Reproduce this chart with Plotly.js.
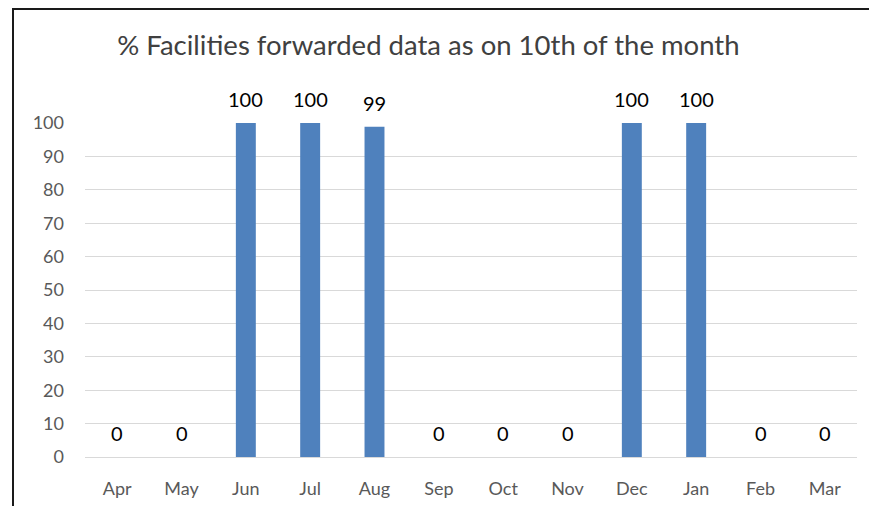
<!DOCTYPE html>
<html><head><meta charset="utf-8">
<script src="https://cdn.plot.ly/plotly-3.0.1.min.js"></script>
<style>
html,body{margin:0;padding:0;background:#fff;overflow:hidden;width:869px;height:506px;}
#frame{position:absolute;left:12px;top:8px;width:900px;height:600px;border-left:2px solid #1a1a1a;border-top:2px solid #1a1a1a;box-sizing:border-box;pointer-events:none;z-index:5;}
#chart{position:absolute;left:0;top:0;width:869px;height:506px;}
</style></head>
<body>
<div id="chart"></div>
<div id="frame"></div>
<script>
const months = ["Apr","May","Jun","Jul","Aug","Sep","Oct","Nov","Dec","Jan","Feb","Mar"];
const percentForwarded = [0,0,100,100,98.9,0,0,0,100,100,0,0];
const yTicks = [0,10,20,30,40,50,60,70,80,90,100];

const font = "Lato, sans-serif";
const annotations = months.map((m,i)=>({
  x:m, y:percentForwarded[i], xref:'x', yref:'y',
  text: String(Math.round(percentForwarded[i])),
  showarrow:false, yshift:24,
  font:{family:font,size:20,color:'#000'}
}));

Plotly.newPlot('chart',[{
  type:'bar', x:months, y:percentForwarded,
  marker:{color:'#4f81bd'}, hoverinfo:'none'
}],{
  width:869,height:506,
  margin:{l:85,r:12,t:123,b:49,pad:0},
  paper_bgcolor:'#fff',plot_bgcolor:'#fff',
  bargap:0.69,
  showlegend:false,
  title:{text:'% Facilities forwarded data as on 10th of the month',
    font:{family:font,size:27.5,color:'#404040'},x:0.493,xanchor:'center',y:0.91,yanchor:'middle'},
  xaxis:{type:'category',showgrid:false,zeroline:false,showline:false,ticks:'',
    tickfont:{family:font,size:18,color:'#595959'},ticklabelstandoff:19},
  yaxis:{range:[0,100],tickvals:yTicks,showgrid:true,gridcolor:'#d9d9d9',gridwidth:1,
    zeroline:true,zerolinecolor:'#d9d9d9',zerolinewidth:1,showline:false,ticks:'',
    tickfont:{family:font,size:18,color:'#595959'},ticklabelstandoff:20},
  annotations:annotations
},{displayModeBar:false,staticPlot:true});
</script>
</body></html>
